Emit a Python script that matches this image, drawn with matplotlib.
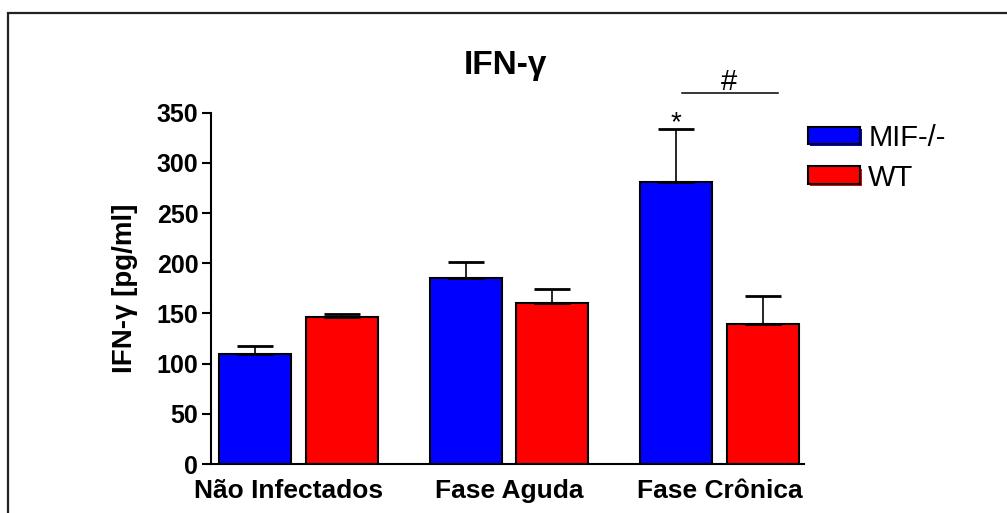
import numpy as np
import matplotlib.pyplot as plt
import matplotlib.patheffects as pe
from matplotlib.patches import Patch, Rectangle
from matplotlib.transforms import ScaledTranslation

plt.rcParams['font.family'] = ['Liberation Sans', 'DejaVu Sans']

# dados (pg/ml)
grupos = ['Não Infectados', 'Fase Aguda', 'Fase Crônica']
mif = [109.6, 185.5, 281]
mif_err = [8.3, 15.5, 53]
wt = [146.5, 160.7, 139.5]
wt_err = [2.9, 14, 28]
yticks = [0, 50, 100, 150, 200, 250, 300, 350]

x = np.arange(len(grupos))
w = 0.343    # largura da barra
off = 0.206  # deslocamento de cada série

fig = plt.figure(figsize=(10.07, 5.13), dpi=100)
ax = fig.add_axes([0.2100, 0.0955, 0.5880, 0.6848])

ax.bar(x - off, mif, w, color='#0000ff', edgecolor='black', linewidth=1.5, zorder=2)
ax.bar(x + off, wt, w, color='#ff0000', edgecolor='black', linewidth=1.5, zorder=2)
# barras de erro só para cima
ax.errorbar(x - off, mif, yerr=[np.zeros(3), mif_err], fmt='none', ecolor='black',
            elinewidth=1.2, capsize=13, capthick=2, zorder=3)
ax.errorbar(x + off, wt, yerr=[np.zeros(3), wt_err], fmt='none', ecolor='black',
            elinewidth=1.2, capsize=13, capthick=2, zorder=3)

ax.set_xlim(-0.414, 2.40)
ax.set_ylim(0, 350)
ax.set_yticks(yticks)
ax.set_xticks(x)
ax.set_xticklabels(grupos, fontsize=19, fontweight='bold')
ax.tick_params(axis='x', length=0, pad=11)
ax.tick_params(axis='y', length=6.5, width=1.5, pad=3, labelsize=18)
for t in ax.get_yticklabels():
    t.set_fontweight('bold')
# o primeiro rótulo fica um pouco à esquerda no original
lab0 = ax.get_xticklabels()[0]
lab0.set_transform(lab0.get_transform() + ScaledTranslation(-0.10, 0, fig.dpi_scale_trans))
for s in ['top', 'right']:
    ax.spines[s].set_visible(False)
for s in ['left', 'bottom']:
    ax.spines[s].set_linewidth(1.5)

ax.set_ylabel('IFN-γ [pg/ml]', fontsize=20, fontweight='bold', labelpad=13)
ax.text(0.496, 1.11, 'IFN-γ', transform=ax.transAxes, ha='center', va='baseline',
        fontsize=24, fontweight='bold')

# significância
ax.text(2 - off, 333, '*', ha='center', va='baseline', fontsize=20, clip_on=False)
ax.plot([1.824, 2.279], [369.3, 369.3], color='black', lw=1.1, clip_on=False)
ax.text(2.0466, 372.5, '#', ha='center', va='baseline', fontsize=21, clip_on=False)

sombra = lambda c: [pe.SimplePatchShadow(offset=(1.5, -1.5), shadow_rgbFace=c, alpha=1), pe.Normal()]
handles = [Patch(facecolor='#0000ff', edgecolor='black', linewidth=1.5, path_effects=sombra('#0000ff')),
           Patch(facecolor='#ff0000', edgecolor='black', linewidth=1.5, path_effects=sombra('#ff0000'))]
ax.legend(handles, ['MIF-/-', 'WT'], loc='upper left', bbox_to_anchor=(0.802, 0.759),
          bbox_transform=fig.transFigure, frameon=False, fontsize=21,
          handlelength=1.78, handleheight=0.55, handletextpad=0.3, labelspacing=0.41,
          borderpad=0, borderaxespad=0)

# moldura da figura
fig.add_artist(Rectangle((8 / 1007, -0.1), 1.2, 1 - 13 / 513 + 0.1, transform=fig.transFigure,
                         fill=False, edgecolor='#222222', linewidth=1.6))

fig.savefig('out.png', dpi=100)
